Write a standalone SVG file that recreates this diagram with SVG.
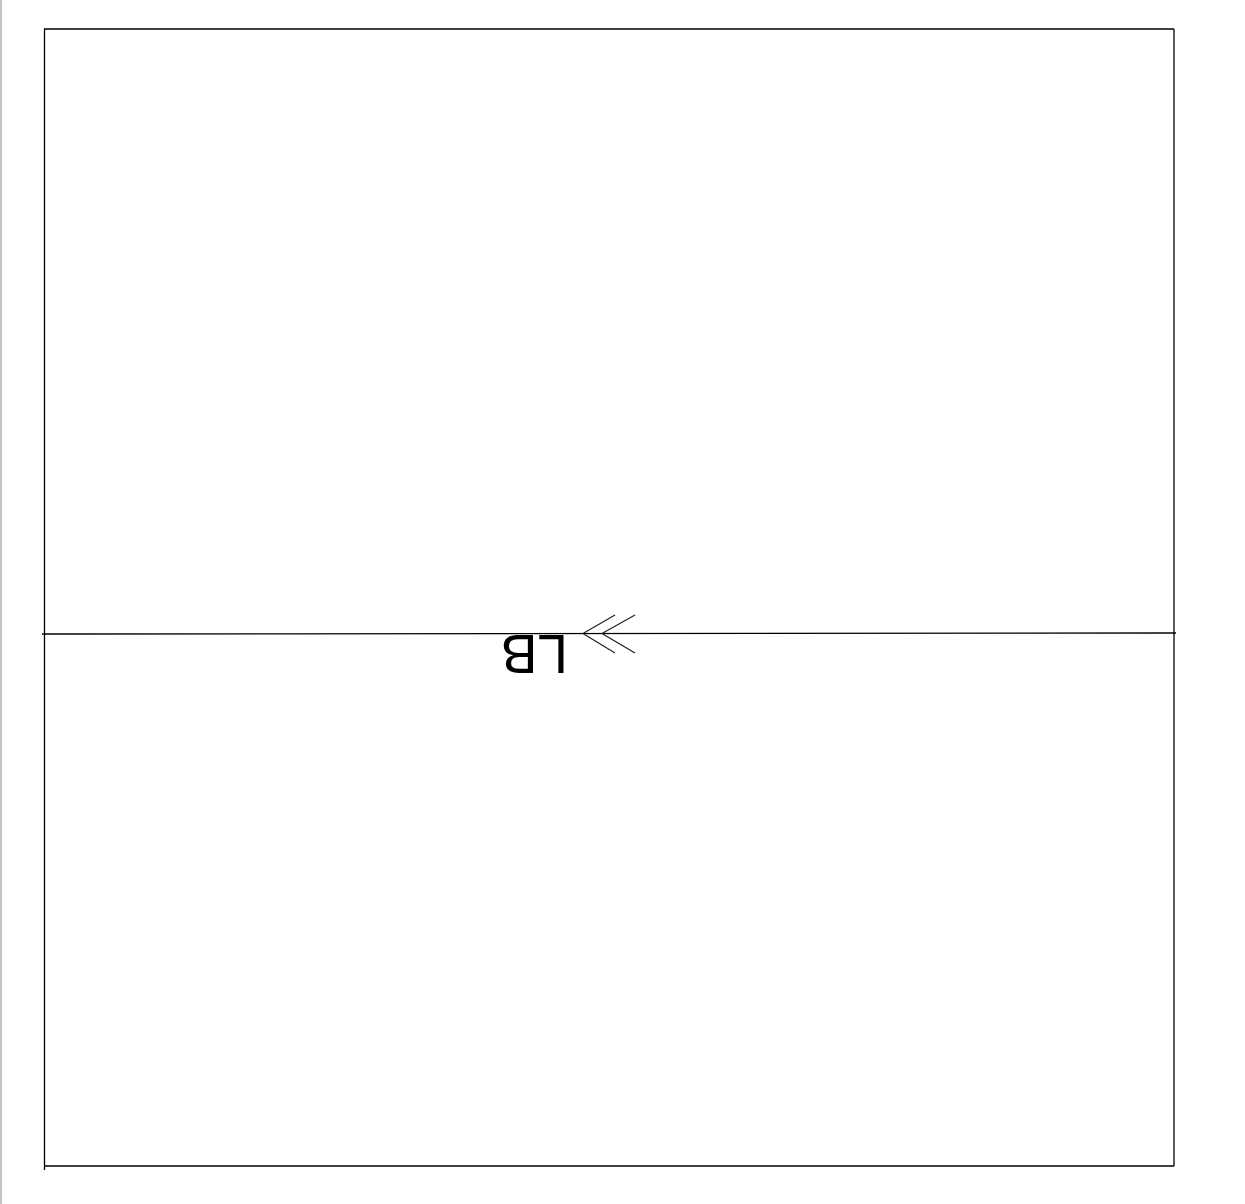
<svg xmlns="http://www.w3.org/2000/svg" width="1245" height="1204" viewBox="0 0 1245 1204">
<style>
.ln{stroke:#000;stroke-width:1.3;fill:none}
.ch{stroke:#222;stroke-width:1.2;fill:none}
.lbl{font-family:"Liberation Sans",Arial,sans-serif;font-size:55px;fill:#000}
</style>
<rect x="0" y="0" width="1245" height="1204" fill="#fff"/>
<line x1="1" y1="0" x2="1" y2="1204" stroke="#c4c4c4" stroke-width="2"/>
<g id="frame">
<line class="ln" x1="44" y1="29" x2="1174" y2="29"/>
<line class="ln" x1="44.5" y1="29" x2="44.5" y2="1170"/>
<line class="ln" x1="44" y1="1166" x2="1174" y2="1166"/>
<line class="ln" x1="1174" y1="29" x2="1174" y2="1166"/>
</g>
<g id="connectors">
<line class="ln" x1="42" y1="634" x2="1176" y2="633"/>
<polyline class="ch" points="615,615 583,633.5 615,653"/>
<polyline class="ch" points="635,615 602,633.5 635,653"/>
<text class="lbl" transform="translate(568,635) rotate(180)" x="0" y="0">LB</text>
</g>
</svg>
